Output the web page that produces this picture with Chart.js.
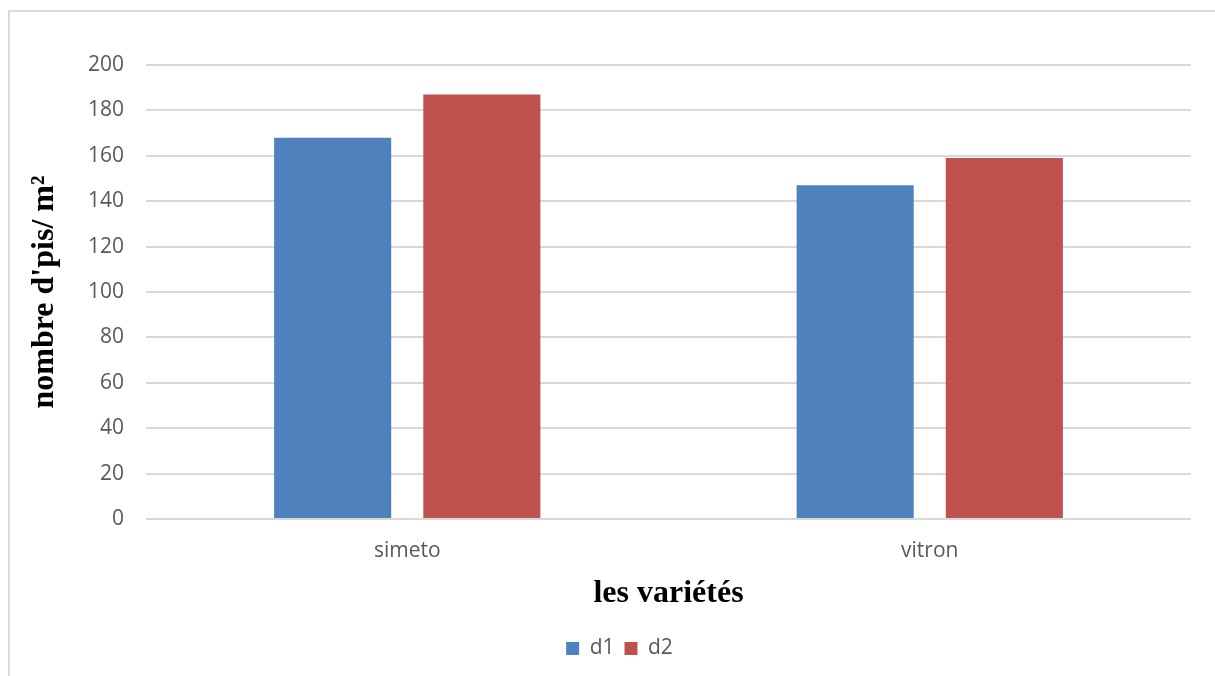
<!DOCTYPE html>
<html>
<head>
<meta charset="utf-8">
<script src="https://cdn.jsdelivr.net/npm/chart.js@4.4.1/dist/chart.umd.min.js"></script>
<style>
  html, body { margin: 0; padding: 0; background: #ffffff; overflow: hidden; }
  #wrap { position: relative; width: 1215px; height: 676px; }
  #frame { position: absolute; left: 8px; top: 10px; width: 1300px; height: 800px;
           border: 2px solid #dadada; box-sizing: border-box; pointer-events: none; }
  canvas { position: absolute; left: 0; top: 0; }
</style>
</head>
<body>
<div id="wrap">
  <canvas id="chart" width="1215" height="676"></canvas>
  <div id="frame"></div>
</div>
<script>
// Varieties and plant counts per m² for the two densities
const categories = ['simeto', 'vitron'];
const d1Values = [168, 147];
const d2Values = [187, 159];
const yTicks = [0, 20, 40, 60, 80, 100, 120, 140, 160, 180, 200];

const tickFont = { family: "'Open Sans', 'Noto Sans', sans-serif", size: 21 };
const titleFont = { family: "'Liberation Serif', 'Times New Roman', serif", size: 32, weight: 'bold' };

new Chart(document.getElementById('chart'), {
  type: 'bar',
  data: {
    labels: categories,
    datasets: [
      { label: 'd1', data: d1Values, backgroundColor: '#4F81BD', borderWidth: 0,
        categoryPercentage: 0.571, barPercentage: 0.785 },
      { label: 'd2', data: d2Values, backgroundColor: '#C0504D', borderWidth: 0,
        categoryPercentage: 0.571, barPercentage: 0.785 }
    ]
  },
  options: {
    responsive: false,
    animation: false,
    layout: { padding: { top: 65, right: 0, bottom: 7, left: 24 } },
    plugins: {
      legend: {
        position: 'bottom',
        labels: { boxWidth: 13, boxHeight: 13, color: '#595959', font: tickFont, padding: 10 }
      },
      tooltip: { enabled: false }
    },
    scales: {
      x: {
        grid: { display: false, drawTicks: false },
        border: { display: false },
        ticks: { color: '#595959', font: tickFont, padding: 19 },
        title: { display: true, text: 'les variétés', color: '#000000', font: titleFont,
                 padding: { top: 8, bottom: 15 } },
        afterFit: (scale) => { scale.height = 109; }
      },
      y: {
        min: 0, max: 200,
        afterBuildTicks: (scale) => { scale.ticks = yTicks.map(v => ({ value: v })); },
        grid: { color: '#d9d9d9', lineWidth: 2, drawTicks: false },
        border: { display: false },
        ticks: { color: '#595959', font: tickFont, padding: 22 },
        title: { display: true, text: "nombre d'pis/ m²", color: '#000000', font: titleFont,
                 padding: { top: 2, bottom: 0 } },
        afterFit: (scale) => { scale.width = 122; }
      },
      // empty right-hand margin of the plot
      yRight: {
        position: 'right',
        display: true,
        grid: { display: false, drawTicks: false },
        border: { display: false },
        ticks: { display: false },
        afterFit: (scale) => { scale.width = 24; }
      }
    }
  }
});
</script>
</body>
</html>
